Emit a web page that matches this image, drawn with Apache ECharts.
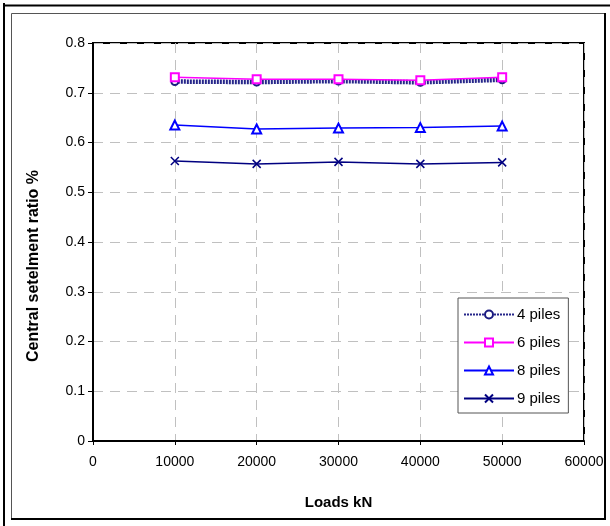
<!DOCTYPE html>
<html>
<head>
<meta charset="utf-8">
<script src="https://cdn.jsdelivr.net/npm/echarts@6/dist/echarts.min.js"></script>
<style>html,body{margin:0;padding:0;background:#fff}#c{width:610px;height:526px}</style>
</head>
<body>
<div id="c"></div>
<script>
const loads = [10000, 20000, 30000, 40000, 50000];
const piles4 = [0.7225, 0.7215, 0.7235, 0.721, 0.726];
const piles6 = [0.731, 0.727, 0.727, 0.725, 0.731];
const piles8 = [0.635, 0.627, 0.629, 0.630, 0.633];
const piles9 = [0.563, 0.557, 0.561, 0.557, 0.560];
const seriesNames = ['4 piles', '6 piles', '8 piles', '9 piles'];
const xTitle = 'Loads kN';
const yTitle = 'Central setelment ratio %';

const pair = arr => loads.map((x, i) => [x, arr[i]]);
const chart = echarts.init(document.getElementById('c'), null, {renderer: 'canvas'});
const F = 'Liberation Sans, Arial, sans-serif';
const xMark = 'path://M0,0L10,10M10,0L0,10';
const gridLine = {show: true, lineStyle: {color: '#c0c0c0', type: [10, 7], width: 1}};

chart.setOption({
  animation: false,
  backgroundColor: '#fff',
  grid: {left: 93, top: 43, right: 26, bottom: 85, show: true, borderColor: '#000', borderWidth: 2, backgroundColor: 'transparent'},
  xAxis: {
    type: 'value', min: 0, max: 60000, interval: 10000,
    name: xTitle, nameLocation: 'middle', nameGap: 54,
    nameTextStyle: {fontFamily: F, fontWeight: 'bold', fontSize: 15, color: '#000'},
    axisLine: {lineStyle: {color: '#000', width: 2}},
    axisTick: {show: true, inside: false, length: 4, lineStyle: {color: '#000'}},
    axisLabel: {fontFamily: F, fontSize: 14, color: '#000', margin: 14, formatter: v => String(v)},
    splitLine: gridLine
  },
  yAxis: {
    type: 'value', min: 0, max: 0.8, interval: 0.1,
    axisLine: {show: true, lineStyle: {color: '#000', width: 2}},
    axisTick: {show: true, inside: false, length: 5, lineStyle: {color: '#000'}},
    axisLabel: {fontFamily: F, fontSize: 14, color: '#000', margin: 8,
      formatter: v => (Math.round(v * 10) / 10).toString()},
    splitLine: gridLine
  },
  legend: {
    orient: 'vertical', left: 458, top: 298,
    itemWidth: 50, itemHeight: 10, itemGap: 13,
    padding: [9, 8, 7, 5],
    backgroundColor: '#fff', borderColor: '#555', borderWidth: 1,
    textStyle: {fontFamily: F, fontSize: 15, color: '#000', padding: [0, 0, 0, -2]},
    data: seriesNames
  },
  series: [
    {name: seriesNames[0], type: 'line', data: pair(piles4), symbol: 'emptyCircle', symbolSize: 7,
      lineStyle: {color: '#26268a', width: 4.5, type: [2, 1]}, itemStyle: {color: '#1a1a80', borderWidth: 1.5}, z: 2},
    {name: seriesNames[1], type: 'line', data: pair(piles6), symbol: 'emptyRect', symbolSize: 8,
      lineStyle: {color: '#ff00ff', width: 1.5}, itemStyle: {color: '#ff00ff', borderWidth: 1.5}, z: 3},
    {name: seriesNames[2], type: 'line', data: pair(piles8), symbol: 'emptyTriangle', symbolSize: 9,
      lineStyle: {color: '#0000ff', width: 1.5}, itemStyle: {color: '#0000ff', borderWidth: 1.5}, z: 3},
    {name: seriesNames[3], type: 'line', data: pair(piles9), symbol: xMark, symbolSize: 8,
      lineStyle: {color: '#000080', width: 1.5}, itemStyle: {color: '#000080', borderColor: '#000080', borderWidth: 1.5}, z: 3}
  ],
  graphic: [
    {type: 'text', rotation: Math.PI / 2, x: 34, y: 266,
      style: {text: yTitle, fontFamily: F, fontWeight: 'bold', fontSize: 16, fill: '#000', align: 'center', verticalAlign: 'middle'}, silent: true},
    {type: 'line', shape: {x1: 3, y1: 5.5, x2: 610, y2: 5.5}, style: {stroke: '#000', lineWidth: 2}, silent: true},
    {type: 'line', shape: {x1: 4, y1: 3, x2: 4, y2: 526}, style: {stroke: '#000', lineWidth: 2}, silent: true},
    {type: 'rect', shape: {x: 11.5, y: 13.5, width: 593, height: 505}, style: {fill: null, stroke: '#555', lineWidth: 1}, silent: true},
    {type: 'line', shape: {x1: 605, y1: 13, x2: 605, y2: 520}, style: {stroke: '#000', lineWidth: 2}, silent: true},
    {type: 'line', shape: {x1: 11, y1: 519, x2: 606, y2: 519}, style: {stroke: '#000', lineWidth: 2}, silent: true}
  ]
});
</script>
</body>
</html>
